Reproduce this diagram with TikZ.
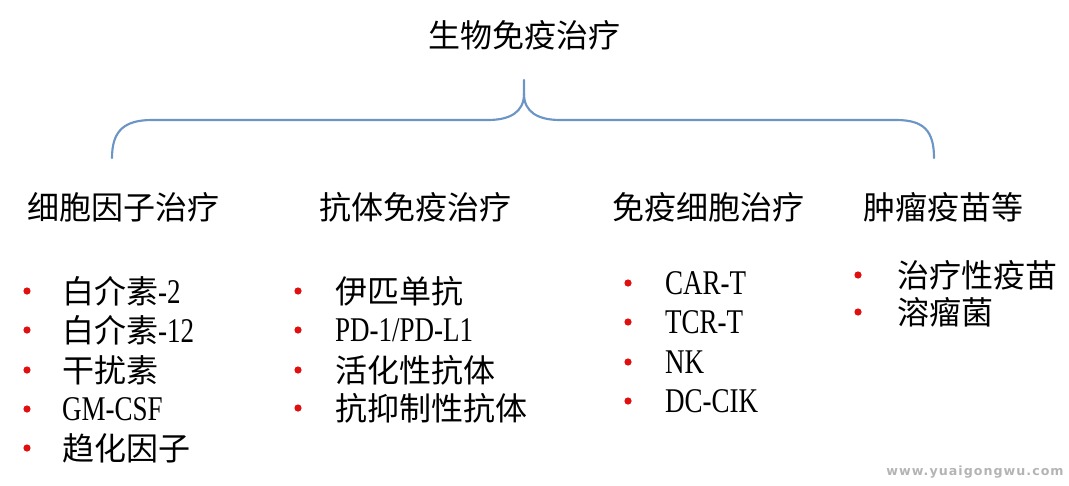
\documentclass[tikz,border=0pt]{standalone}
\usepackage{fontspec}
\setmainfont{Liberation Serif}[FakeStretch=0.78]
\newfontfamily\cjk{Noto Sans CJK SC}
\newfontfamily\wmfont{DejaVu Sans}[LetterSpace=8,UprightFont=* Bold]
\definecolor{bracecol}{HTML}{6A95C4}
\definecolor{bulletred}{HTML}{E01010}
\definecolor{wmgray}{HTML}{B4B4B4}
\newcommand{\lt}[1]{{\fontsize{26}{28}\selectfont #1}}
\begin{document}
\begin{tikzpicture}[x=0.75pt,y=-0.75pt,
  every node/.style={inner sep=0pt,outer sep=0pt},
  big/.style={font=\fontsize{24}{28}\selectfont},
  head/.style={big,anchor=center},
  item/.style={big,anchor=west},
  dot/.style={circle,fill=bulletred,minimum size=5.4pt},
  bracestyle/.style={draw=bracecol,line width=1.6pt,line cap=round,line join=round}]
\useasboundingbox (0,0) rectangle (1069,485);
% title
\node[head] (title) at (524,35) {\cjk 生物免疫治疗};
% brace
\coordinate (bl) at (112,158);
\coordinate (br) at (934,158);
\coordinate (cusp) at (524,94);
\coordinate (tip) at (524,80);
\draw[bracestyle] (bl) .. controls (112,131) and (124,120) .. (152,120) -- (488,120)
  .. controls (510,120) and (524,112) .. (cusp) -- (tip);
\draw[bracestyle] (cusp) .. controls (524,112) and (538,120) .. (560,120) -- (896,120)
  .. controls (924,120) and (934,131) .. (br);
% headings
\node[head] (h1) at (123,207) {\cjk 细胞因子治疗};
\node[head] (h2) at (415,207) {\cjk 抗体免疫治疗};
\node[head] (h3) at (708,207) {\cjk 免疫细胞治疗};
\node[head] (h4) at (943,207) {\cjk 肿瘤疫苗等};
% column 1
\node[dot] (d11) at (27,291) {};
\node[dot] (d12) at (27,330) {};
\node[dot] (d13) at (27,370) {};
\node[dot] (d14) at (27,409) {};
\node[dot] (d15) at (27,448) {};
\node[item] (t11) at (62,291) {{\cjk 白介素}\lt{-2}};
\node[item] (t12) at (62,330) {{\cjk 白介素}\lt{-12}};
\node[item] (t13) at (62,370) {\cjk 干扰素};
\node[item] (t14) at (62,409) {\lt{GM-CSF}};
\node[item] (t15) at (62,448) {\cjk 趋化因子};
% column 2
\node[dot] (d21) at (298,291) {};
\node[dot] (d22) at (298,330) {};
\node[dot] (d23) at (298,370) {};
\node[dot] (d24) at (298,408) {};
\node[item] (t21) at (335,291) {\cjk 伊匹单抗};
\node[item] (t22) at (335,330) {\lt{PD-1/PD-L1}};
\node[item] (t23) at (335,370) {\cjk 活化性抗体};
\node[item] (t24) at (335,408) {\cjk 抗抑制性抗体};
% column 3
\node[dot] (d31) at (628,283) {};
\node[dot] (d32) at (628,322) {};
\node[dot] (d33) at (628,362) {};
\node[dot] (d34) at (628,401) {};
\node[item] (t31) at (665,283) {\lt{CAR-T}};
\node[item] (t32) at (665,322) {\lt{TCR-T}};
\node[item] (t33) at (665,362) {\lt{NK}};
\node[item] (t34) at (665,401) {\lt{DC-CIK}};
% column 4
\node[dot] (d41) at (858,275) {};
\node[dot] (d42) at (858,312) {};
\node[item] (t41) at (897,275) {\cjk 治疗性疫苗};
\node[item] (t42) at (897,312) {\cjk 溶瘤菌};
% watermark
\node[anchor=center,text=wmgray,font=\wmfont\fontsize{9.5}{10}\selectfont] (wm) at (975,472) {www.yuaigongwu.com};
\end{tikzpicture}
\end{document}
